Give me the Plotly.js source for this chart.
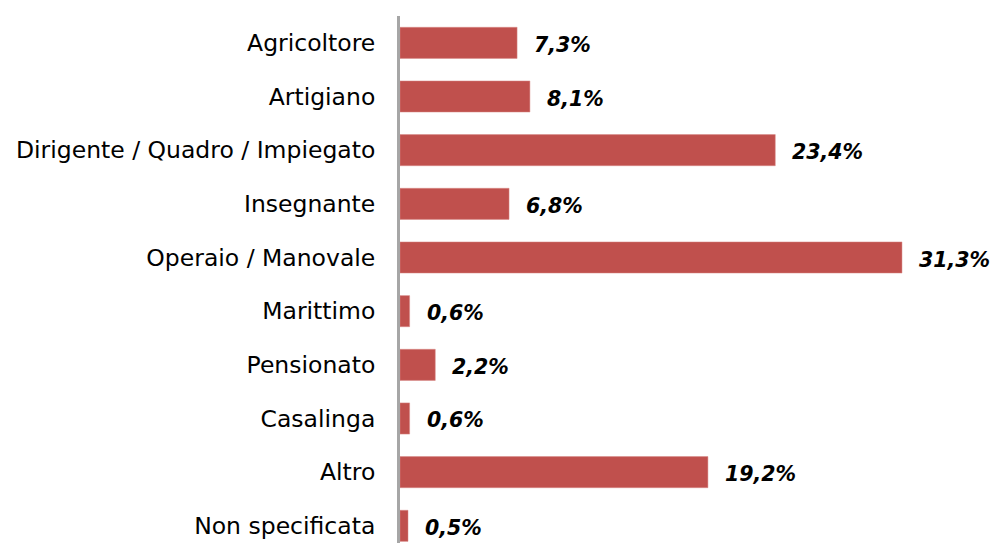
<!DOCTYPE html>
<html><head><meta charset="utf-8">
<script src="https://cdn.plot.ly/plotly-3.0.1.min.js"></script>
<style>html,body{margin:0;padding:0;background:#fff;}#chart{width:995px;height:543px;}</style>
</head><body><div id="chart"></div>
<script>
var categories = ["Agricoltore","Artigiano","Dirigente / Quadro / Impiegato","Insegnante","Operaio / Manovale","Marittimo","Pensionato","Casalinga","Altro","Non specificata"];
var values = [7.3, 8.1, 23.4, 6.8, 31.3, 0.6, 2.2, 0.6, 19.2, 0.5];
var valueLabels = ["7,3%","8,1%","23,4%","6,8%","31,3%","0,6%","2,2%","0,6%","19,2%","0,5%"];

var FONT = "'DejaVu Sans', sans-serif";
var trace = {
  type: "bar", orientation: "h",
  y: categories, x: values,
  marker: {color: "#c0504d", line: {color: "#d98a88", width: 0.5}},
  hoverinfo: "none"
};
var annotations = categories.map(function(c, i){
  return {x: values[i], y: c, xref: "x", yref: "y", text: "<b><i>" + valueLabels[i] + "</i></b>",
    showarrow: false, xanchor: "left", yanchor: "middle", xshift: 15, yshift: -2,
    font: {family: FONT, size: 20.5, color: "#000"}};
});
var layout = {
  width: 995, height: 543,
  margin: {l: 400, r: 0, t: 16, b: 0},
  paper_bgcolor: "#fff", plot_bgcolor: "#fff",
  showlegend: false,
  bargap: 0.42,
  xaxis: {range: [0, 37.1], visible: false, showgrid: false, zeroline: false, fixedrange: true},
  yaxis: {type: "category", range: [9.32, -0.5], showgrid: false, zeroline: false,
    showline: true, linecolor: "#a6a6a6", linewidth: 3,
    ticks: "", ticklabelstandoff: 17,
    tickfont: {family: FONT, size: 23.5, color: "#000"}},
  annotations: annotations
};
Plotly.newPlot("chart", [trace], layout, {displayModeBar: false, staticPlot: true});
</script></body></html>
